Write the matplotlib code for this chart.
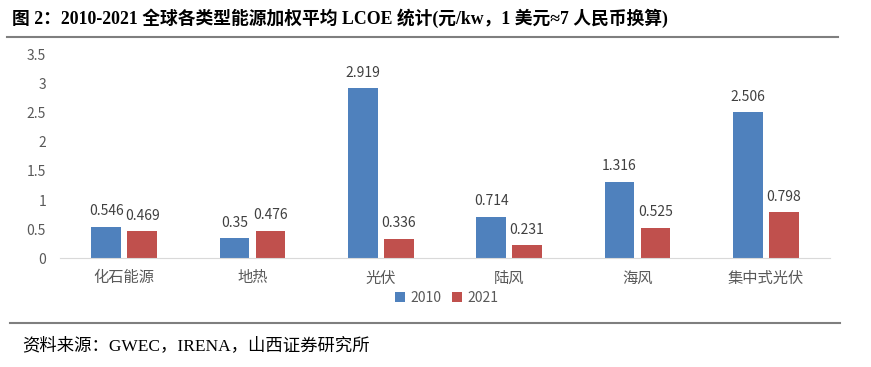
import numpy as np
from matplotlib import pyplot as plt
from matplotlib.lines import Line2D

plt.rcParams['font.family'] = ['Noto Sans CJK SC', 'DejaVu Sans']

categories = ["化石能源", "地热", "光伏", "陆风", "海风", "集中式光伏"]
lcoe_2010 = [0.546, 0.35, 2.919, 0.714, 1.316, 2.506]
lcoe_2021 = [0.469, 0.476, 0.336, 0.231, 0.525, 0.798]
series_names = ["2010", "2021"]
yticks = [0, 0.5, 1, 1.5, 2, 2.5, 3, 3.5]

blue = "#4F81BD"
red = "#C0504D"
gray = "#595959"

fig = plt.figure(figsize=(8.71, 3.67), dpi=100)
ax = fig.add_axes([0.0689, 0.296, 0.884, 0.556])

x = np.arange(len(categories))
w = 0.23
b1 = ax.bar(x - 0.14, lcoe_2010, w, color=blue, label=series_names[0])
b2 = ax.bar(x + 0.14, lcoe_2021, w, color=red, label=series_names[1])

# value labels above each bar
for bars, vals in ((b1, lcoe_2010), (b2, lcoe_2021)):
    for bar, v in zip(bars, vals):
        ax.annotate(f"{v:g}", (bar.get_x() + bar.get_width() / 2, v),
                    xytext=(0, 6), textcoords="offset points",
                    ha="center", va="bottom", fontsize=10, color="#404040")

ax.set_xlim(-0.5, len(categories) - 0.5)
ax.set_ylim(0, 3.5)
ax.set_yticks(yticks)
ax.set_yticklabels([f"{t:g}" for t in yticks])
ax.set_xticks(x)
ax.set_xticklabels(categories)
ax.tick_params(axis="both", length=0, colors=gray, labelsize=10)
ax.tick_params(axis="x", pad=8, labelsize=11)
ax.tick_params(axis="y", pad=10)
for s in ["top", "right", "left"]:
    ax.spines[s].set_visible(False)
ax.spines["bottom"].set_color("#D9D9D9")

fig.legend(handles=[b1, b2], loc="center", bbox_to_anchor=(0.513, 0.188),
           ncol=2, frameon=False, fontsize=10, handlelength=0.7,
           handleheight=0.7, handletextpad=0.4, columnspacing=0.8,
           labelcolor=gray)

# title and source, with rules
fig.text(0.014, 0.951, "图 2：2010-2021 全球各类型能源加权平均 LCOE 统计(元/kw，1 美元≈7 人民币换算)",
         fontsize=12.8, fontweight="bold", va="center",
         family=["Liberation Serif", "Noto Sans CJK SC"])
fig.add_artist(Line2D([0.008, 0.962], [0.898, 0.898], color="#7F7F7F", lw=1.5))
fig.add_artist(Line2D([0.012, 0.964], [0.12, 0.12], color="#7F7F7F", lw=1.5))
fig.text(0.025, 0.057, "资料来源：GWEC，IRENA，山西证券研究所",
         fontsize=12.5, va="center", family=["Liberation Serif", "Noto Sans CJK SC"])

fig.savefig("out.png", dpi=100)
